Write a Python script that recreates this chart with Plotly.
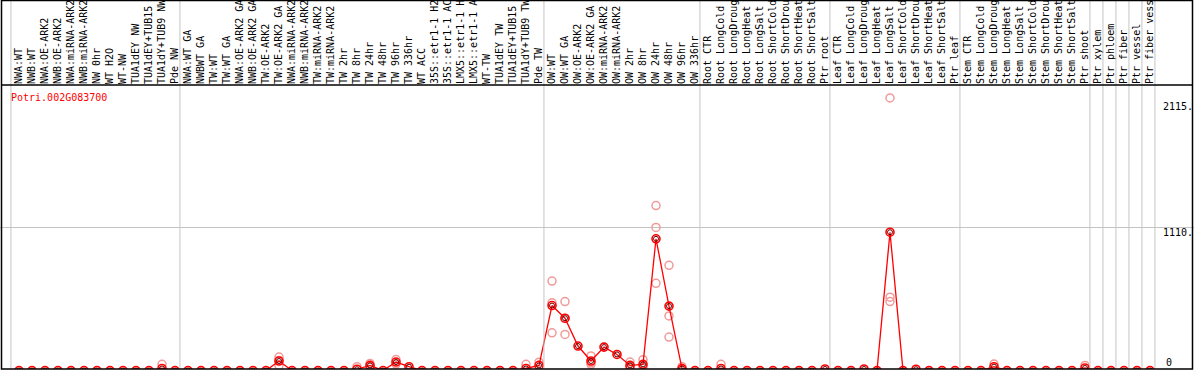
import plotly.graph_objects as go

categories = [
    "NWA:WT", "NWB:WT", "NWA:OE-ARK2", "NWB:OE-ARK2", "NWA:miRNA-ARK2", "NWB:miRNA-ARK2",
    "NW 0hr", "WT H2O", "WT-NW", "TUA1dEY NW", "TUA1dEY+TUB15", "TUA1dY+TUB9 NW", "Pde NW",
    "NWA:WT GA", "NWBWT GA", "TW:WT", "TW:WT GA", "NWA:OE-ARK2 GA", "NWB:OE-ARK2 GA",
    "TW:OE-ARK2", "TW:OE-ARK2 GA", "NWA:miRNA-ARK2", "NWB:miRNA-ARK2", "TW:miRNA-ARK2",
    "TW:miRNA-ARK2", "TW 2hr", "TW 8hr", "TW 24hr", "TW 48hr", "TW 96hr", "TW 336hr",
    "WT ACC", "35S::etr1-1 H2", "35S::etr1-1 AC", "LMX5::etr1-1 H", "LMX5::etr1-1 A",
    "WT-TW", "TUA1dEY TW", "TUA1dEY+TUB15", "TUA1dY+TUB9 TW", "Pde TW",
    "OW:WT", "OW:WT GA", "OW:OE-ARK2", "OW:OE-ARK2 GA", "OW:miRNA-ARK2", "OW:miRNA-ARK2",
    "OW 2hr", "OW 8hr", "OW 24hr", "OW 48hr", "OW 96hr", "OW 336hr",
    "Root CTR", "Root LongCold", "Root LongDroug", "Root LongHeat", "Root LongSalt",
    "Root ShortCold", "Root ShortDrou", "Root ShortHeat", "Root ShortSalt", "Ptr root",
    "Leaf CTR", "Leaf LongCold", "Leaf LongDroug", "Leaf LongHeat", "Leaf LongSalt",
    "Leaf ShortCold", "Leaf ShortDrou", "Leaf ShortHeat", "Leaf ShortSalt", "Ptr leaf",
    "Stem CTR", "Stem LongCold", "Stem LongDroug", "Stem LongHeat", "Stem LongSalt",
    "Stem ShortCold", "Stem ShortDrou", "Stem ShortHeat", "Stem ShortSalt", "Ptr shoot",
    "Ptr xylem", "Ptr phloem", "Ptr fiber", "Ptr vessel", "Ptr fiber vess",
]

# mean expression per sample (1-based sample number -> value), others are 0
mean_nonzero = {
    12: 16, 21: 74, 27: 10, 28: 40, 30: 66, 31: 30, 40: 16, 41: 40,
    42: 504, 43: 406, 44: 190, 45: 74, 46: 182, 47: 125, 48: 40, 49: 48,
    50: 1022, 51: 500, 52: 15, 55: 16, 63: 12, 66: 12, 68: 1073, 70: 10,
    76: 30, 83: 20,
}
mean_vals = [mean_nonzero.get(i + 1, 0) for i in range(len(categories))]

# individual replicate values
rep_sample = [12, 21, 21, 21, 27, 28, 28, 30, 30, 40, 41,
              42, 42, 42, 43, 43, 43, 45, 45, 45, 48, 48, 48, 49, 49, 49,
              50, 50, 50, 51, 51, 51, 52, 52, 55, 68, 68, 68, 76, 83]
rep_vals = [48, 105, 40, 77, 30, 55, 30, 85, 50, 48, 65,
            694, 525, 293, 535, 280, 403, 113, 48, 62, 66, 30, 24, 84, 40, 20,
            1280, 1110, 677, 816, 424, 260, 30, 10, 48, 2115, 569, 535, 50, 40]

group_sizes = [13, 28, 12, 10, 10, 10, 1, 1, 1, 1, 1]
y_labels = ["2115.", "1110.", "0"]
gene = "Potri.002G083700"

W, H = 1194, 370
x_idx = list(range(1, len(categories) + 1))

fig = go.Figure()
fig.add_trace(go.Scatter(
    x=rep_sample, y=rep_vals, mode="markers",
    marker=dict(symbol="circle-open", size=8, color="#f09a9a", line=dict(width=1.5)),
    showlegend=False, hoverinfo="skip"))
fig.add_trace(go.Scatter(
    x=x_idx, y=mean_vals, mode="lines+markers",
    line=dict(color="#ff0000", width=1.3),
    marker=dict(symbol="circle-open", size=8, color="#ff0000", line=dict(width=1.6)),
    showlegend=False))
fig.add_trace(go.Scatter(
    x=x_idx, y=mean_vals, mode="markers",
    marker=dict(symbol="circle-open", size=5, color="#600000", line=dict(width=1)),
    showlegend=False, hoverinfo="skip"))

def px(xp):
    return xp / W

def py(yp):
    return 1 - yp / H

shapes = []
# group separators
b = 0.5
bounds = [b]
for g in group_sizes:
    b += g
    bounds.append(b)
for bx in bounds:
    shapes.append(dict(type="line", xref="x", yref="paper", x0=bx - 0.12, x1=bx - 0.12,
                       y0=py(369), y1=1, line=dict(color="#c4c4c4", width=1)))
# frame
shapes.append(dict(type="rect", xref="paper", yref="paper", x0=px(1.5), x1=px(1192.5),
                   y0=py(369), y1=py(0.5), line=dict(color="black", width=1.5)))
shapes.append(dict(type="line", xref="paper", yref="paper", x0=px(1.5), x1=px(1192.5),
                   y0=py(85), y1=py(85), line=dict(color="black", width=1.5)))

annotations = []
annotations.append(dict(text=gene, xref="paper", yref="paper", x=px(9), y=py(97),
                        xanchor="left", yanchor="middle", showarrow=False,
                        font=dict(family="DejaVu Sans Mono", size=10, color="red")))
y_label_px = [107, 232, 362]
y_label_x = [1161, 1161, 1164]
for t, yp, xp in zip(y_labels, y_label_px, y_label_x):
    annotations.append(dict(text=t, xref="paper", yref="paper", x=px(xp), y=py(yp),
                            xanchor="left", yanchor="middle", showarrow=False,
                            font=dict(family="DejaVu Sans Mono", size=10, color="black")))

fig.update_layout(
    width=W, height=H, margin=dict(l=0, r=0, t=0, b=0),
    paper_bgcolor="white", plot_bgcolor="white",
    shapes=shapes, annotations=annotations,
    xaxis=dict(domain=[0, 1], range=[1 - 19 / 13, 1 + (W - 19) / 13], side="top",
               tickmode="array", tickvals=x_idx, ticktext=categories, tickangle=-90,
               ticks="", showgrid=False, zeroline=False, showline=False, automargin=False,
               tickfont=dict(family="DejaVu Sans Mono", size=10, color="black")),
    yaxis=dict(domain=[1 / H, 285 / H], range=[12, 2215], tickmode="array",
               tickvals=[1110], showticklabels=False, showgrid=True, gridcolor="#c4c4c4",
               gridwidth=1, zeroline=False, showline=False, automargin=False),
)

fig.write_html("out.html", config={"displayModeBar": False},
               post_script="document.body.style.margin='0px';document.body.style.overflow='hidden';")
